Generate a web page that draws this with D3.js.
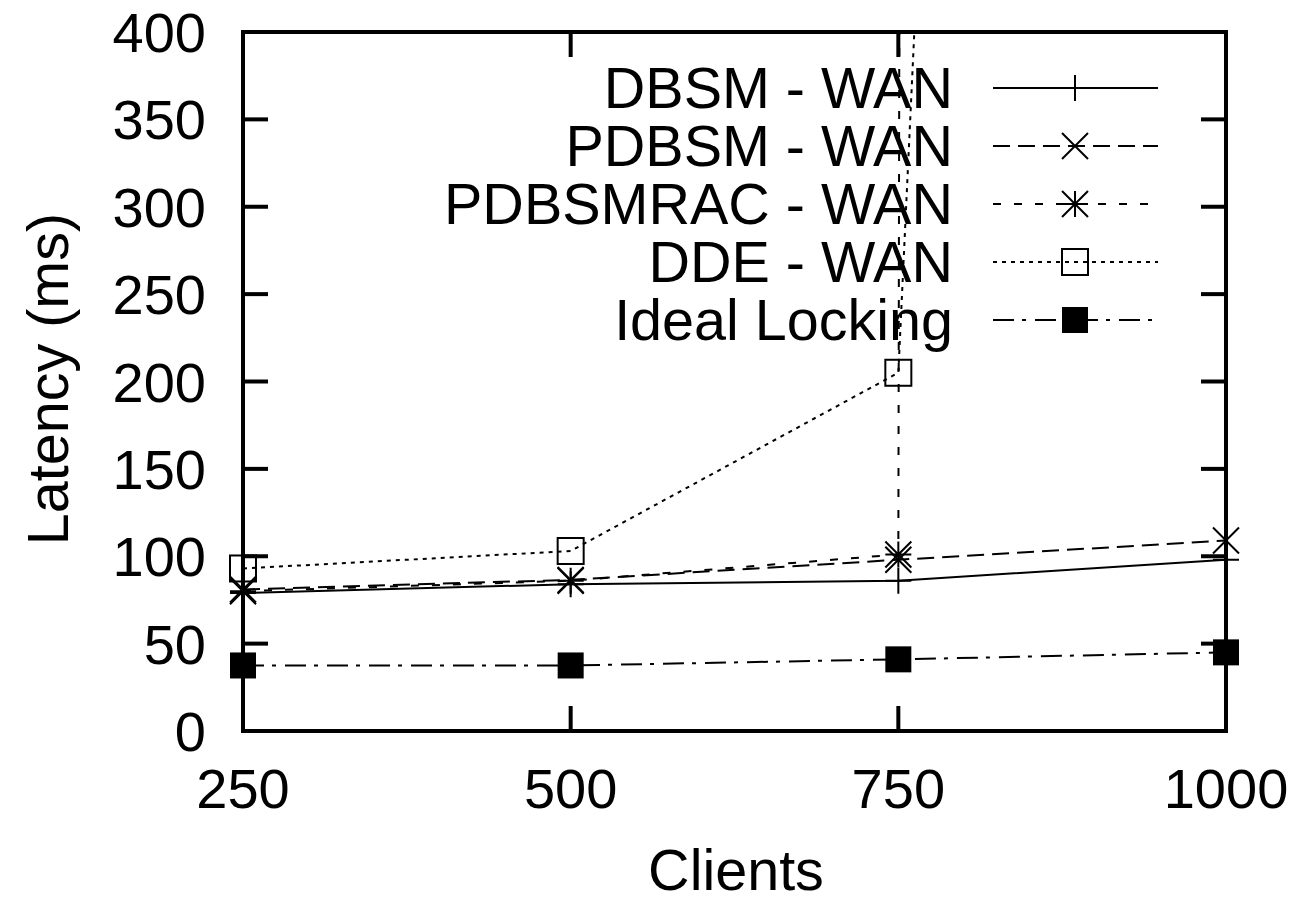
<!DOCTYPE html>
<html><head><meta charset="utf-8">
<script src="https://cdn.jsdelivr.net/npm/d3@7/dist/d3.min.js"></script>
<style>body{margin:0;background:#fff}svg{display:block}text{font-family:"Liberation Sans",Arial,sans-serif;fill:#000}</style>
</head><body><svg id="c" width="1296" height="900"></svg>
<script>
const clients = [250, 500, 750, 1000];
const dbsm = [79, 84, 86, 98];
const pdbsm = [81, 86.5, 98, 109];
const pdbsmrac = [80, 86, 101, 100000];
const dde = [93, 103, 205, 4200];
const ideal = [37.5, 37.5, 41, 45];
const yTicks = [0, 50, 100, 150, 200, 250, 300, 350, 400];
const xTicks = [250, 500, 750, 1000];
const seriesNames = ["DBSM - WAN", "PDBSM - WAN", "PDBSMRAC - WAN", "DDE - WAN", "Ideal Locking"];

const series = [
  {name: seriesNames[0], vals: dbsm, dash: null, mk: "plus"},
  {name: seriesNames[1], vals: pdbsm, dash: "17,8", mk: "cross"},
  {name: seriesNames[2], vals: pdbsmrac, dash: "8,13", mk: "star"},
  {name: seriesNames[3], vals: dde, dash: "4,5", mk: "box"},
  {name: seriesNames[4], vals: ideal, dash: "21,8,4,9", mk: "fbox"}
];

const L = 243, R = 1226, T = 32, B = 731;
const svg = d3.select("#c");
const x = d3.scaleLinear().domain([250, 1000]).range([L, R]);
const y = d3.scaleLinear().domain([0, 400]).range([B, T]);
const FS = 56, FL = 57.5;

svg.append("defs").append("clipPath").attr("id", "clip")
  .append("rect").attr("x", L).attr("y", T).attr("width", R - L).attr("height", B - T);

// ticks (mirrored, inward)
const tl = 25;
const tg = svg.append("g").attr("stroke", "#000").attr("stroke-width", 4);
yTicks.forEach(v => {
  tg.append("line").attr("x1", L).attr("x2", L + tl).attr("y1", y(v)).attr("y2", y(v));
  tg.append("line").attr("x1", R).attr("x2", R - tl).attr("y1", y(v)).attr("y2", y(v));
});
xTicks.forEach(v => {
  tg.append("line").attr("x1", x(v)).attr("x2", x(v)).attr("y1", B).attr("y2", B - tl);
  tg.append("line").attr("x1", x(v)).attr("x2", x(v)).attr("y1", T).attr("y2", T + tl);
});

// tick labels
svg.append("g").selectAll("text").data(yTicks).join("text")
  .attr("x", 206).attr("y", d => y(d) + 20).attr("text-anchor", "end")
  .attr("font-size", FS).text(d => d);
svg.append("g").selectAll("text").data(xTicks).join("text")
  .attr("x", d => x(d)).attr("y", 808).attr("text-anchor", "middle")
  .attr("font-size", FS).text(d => d);

// axis titles
svg.append("text").attr("x", 736).attr("y", 890).attr("text-anchor", "middle")
  .attr("font-size", FL).text("Clients");
svg.append("text").attr("transform", "translate(68,379) rotate(-90)").attr("text-anchor", "middle")
  .attr("font-size", FL).text("Latency (ms)");

function marker(g, mk, cx, cy) {
  const h = 13;
  if (mk === "plus") {
    g.append("path").attr("d", `M${cx - h},${cy}H${cx + h}M${cx},${cy - h}V${cy + h}`)
      .attr("stroke", "#000").attr("stroke-width", 2).attr("fill", "none");
  } else if (mk === "cross") {
    g.append("path").attr("d", `M${cx - h},${cy - h}L${cx + h},${cy + h}M${cx - h},${cy + h}L${cx + h},${cy - h}`)
      .attr("stroke", "#000").attr("stroke-width", 2).attr("fill", "none");
  } else if (mk === "star") {
    g.append("path").attr("d", `M${cx - h},${cy}H${cx + h}M${cx},${cy - h}V${cy + h}M${cx - h},${cy - h}L${cx + h},${cy + h}M${cx - h},${cy + h}L${cx + h},${cy - h}`)
      .attr("stroke", "#000").attr("stroke-width", 2).attr("fill", "none");
  } else if (mk === "box") {
    g.append("rect").attr("x", cx - h).attr("y", cy - h).attr("width", 2 * h).attr("height", 2 * h)
      .attr("stroke", "#000").attr("stroke-width", 2).attr("fill", "none");
  } else if (mk === "fbox") {
    g.append("rect").attr("x", cx - h).attr("y", cy - h).attr("width", 2 * h).attr("height", 2 * h)
      .attr("fill", "#000");
  }
}

const line = d3.line().x((d, i) => x(clients[i])).y(d => y(d));
const dg = svg.append("g");
series.forEach(s => {
  dg.append("path").attr("d", line(s.vals)).attr("clip-path", "url(#clip)")
    .attr("fill", "none").attr("stroke", "#000").attr("stroke-width", 2)
    .attr("stroke-dasharray", s.dash);
  s.vals.forEach((v, i) => { if (v <= 400) marker(dg, s.mk, x(clients[i]), y(v)); });
});

// legend
const lg = svg.append("g");
const rows = [88, 146, 204, 262, 320];
series.forEach((s, i) => {
  const ry = rows[i];
  lg.append("text").attr("x", 953).attr("y", ry + 20).attr("text-anchor", "end")
    .attr("font-size", FL).text(s.name);
  lg.append("line").attr("x1", 993).attr("x2", 1158).attr("y1", ry).attr("y2", ry)
    .attr("stroke", "#000").attr("stroke-width", 2).attr("stroke-dasharray", s.dash);
  marker(lg, s.mk, 1075, ry);
});

// frame
svg.append("rect").attr("x", L).attr("y", T).attr("width", R - L).attr("height", B - T)
  .attr("fill", "none").attr("stroke", "#000").attr("stroke-width", 4);
</script></body></html>
